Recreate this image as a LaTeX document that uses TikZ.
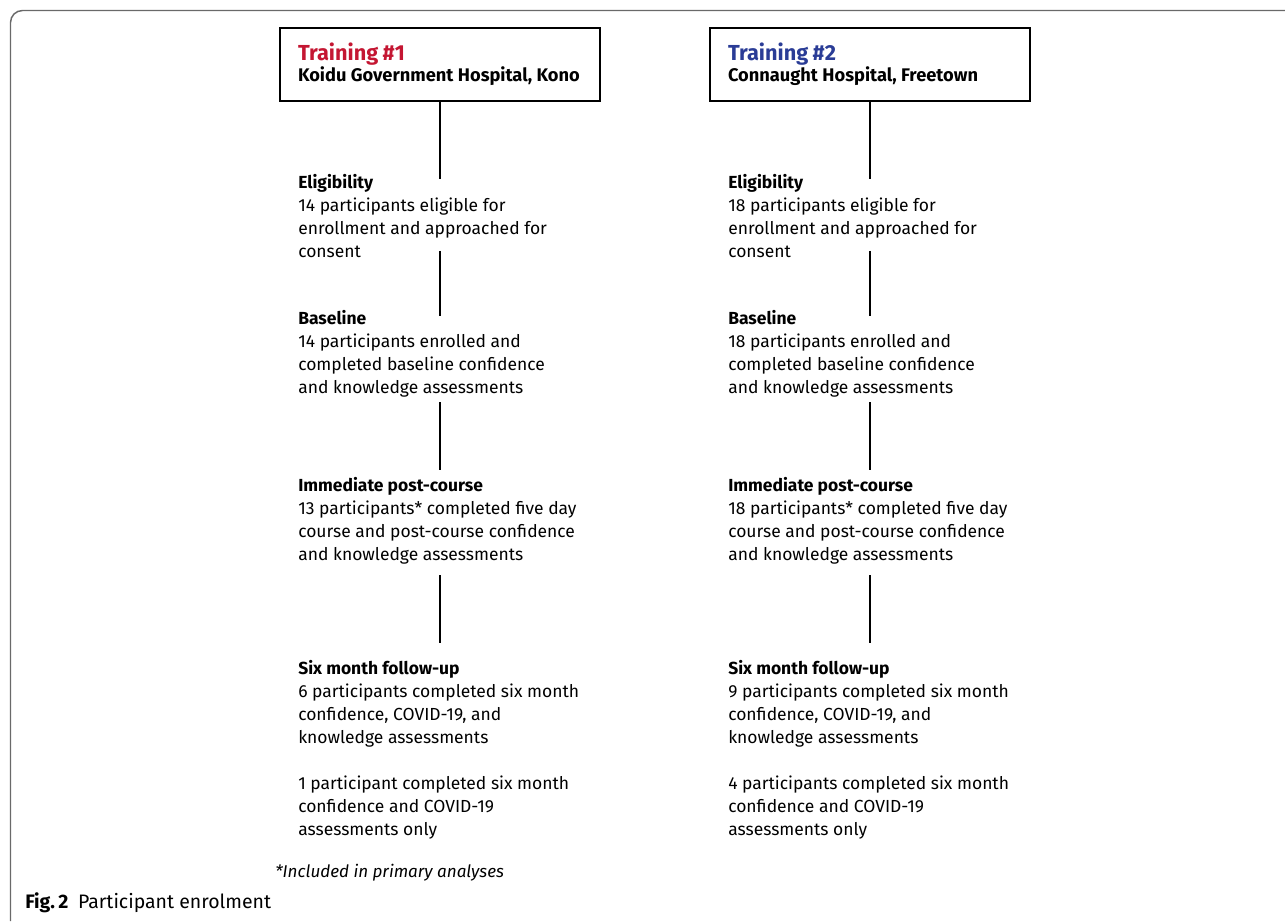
\documentclass[tikz,border=0pt]{standalone}
\usepackage{fontspec}
\setmainfont{Fira Sans}
\usepackage{xcolor}
\usepackage{tikz}
\usetikzlibrary{positioning,calc}
\definecolor{siteone}{RGB}{196,22,50}
\definecolor{sitetwo}{RGB}{42,60,150}
\definecolor{framegray}{RGB}{105,105,105}

\tikzset{
  site/.style={draw, line width=1pt, minimum width=240pt, minimum height=54.75pt, inner xsep=13.5pt, text width=213pt, align=left},
  stage/.style={anchor=north west, inner sep=0pt, align=left, font=\fontsize{13.1}{17.25}\selectfont},
  link/.style={line width=1pt}
}
\newcommand{\sitehead}[3]{{\fontsize{16.3}{17.25}\selectfont\bfseries\color{#1}#2}\\{\fontsize{13.7}{17.25}\selectfont\bfseries #3}}

\begin{document}
\begin{tikzpicture}[x=0.75pt, y=-0.75pt]
\useasboundingbox (0,0) rectangle (1285,921);
% outer frame
\draw[framegray, line width=1.1pt, rounded corners=9pt] (10.5,921) -- (10.5,10.5) -- (1290,10.5);

% training sites
\node[site] (box1) at (440,64.5) {\sitehead{siteone}{Training \#1}{Koidu Government Hospital, Kono}};
\node[site] (box2) at (870,64.5) {\sitehead{sitetwo}{Training \#2}{Connaught Hospital, Freetown}};

% left column
\node[stage] (elig1) at (298,174) {\textbf{Eligibility}\\14 participants eligible for\\enrollment and approached for\\consent};
\node[stage] (base1) at (298,310) {\textbf{Baseline}\\14 participants enrolled and\\completed baseline confidence\\and knowledge assessments};
\node[stage] (post1) at (298,477) {\textbf{Immediate post-course}\\13 participants* completed five day\\course and post-course confidence\\and knowledge assessments};
\node[stage] (six1) at (298,660) {\textbf{Six month follow-up}\\6 participants completed six month\\confidence, COVID-19, and\\knowledge assessments\\[17.25pt]1 participant completed six month\\confidence and COVID-19\\assessments only};

% right column
\node[stage] (elig2) at (728,174) {\textbf{Eligibility}\\18 participants eligible for\\enrollment and approached for\\consent};
\node[stage] (base2) at (728,310) {\textbf{Baseline}\\18 participants enrolled and\\completed baseline confidence\\and knowledge assessments};
\node[stage] (post2) at (728,477) {\textbf{Immediate post-course}\\18 participants* completed five day\\course and post-course confidence\\and knowledge assessments};
\node[stage] (six2) at (728,660) {\textbf{Six month follow-up}\\9 participants completed six month\\confidence, COVID-19, and\\knowledge assessments\\[17.25pt]4 participants completed six month\\confidence and COVID-19\\assessments only};

% connectors
\foreach \c in {1,2}{
  \draw[link] (box\c.south) -- ($(box\c.south |- elig\c.north)+(0,5)$);
  \draw[link] ($(box\c.south |- elig\c.south)+(0,-7)$) -- ($(box\c.south |- base\c.north)+(0,6)$);
  \draw[link] ($(box\c.south |- base\c.south)+(0,5)$) -- ($(box\c.south |- post\c.north)+(0,-7)$);
  \draw[link] ($(box\c.south |- post\c.south)+(0,11)$) -- ($(box\c.south |- six\c.north)+(0,-17)$);
}

% footnote and caption
\node[anchor=west, inner sep=0pt, font=\fontsize{12.8}{15}\selectfont\itshape] (note) at (275,873) {*Included in primary analyses};
\node[anchor=west, inner sep=0pt, font=\fontsize{14.6}{16}\selectfont] (caption) at (25,903) {\textbf{Fig.\,2}\enspace Participant enrolment};
\end{tikzpicture}
\end{document}
